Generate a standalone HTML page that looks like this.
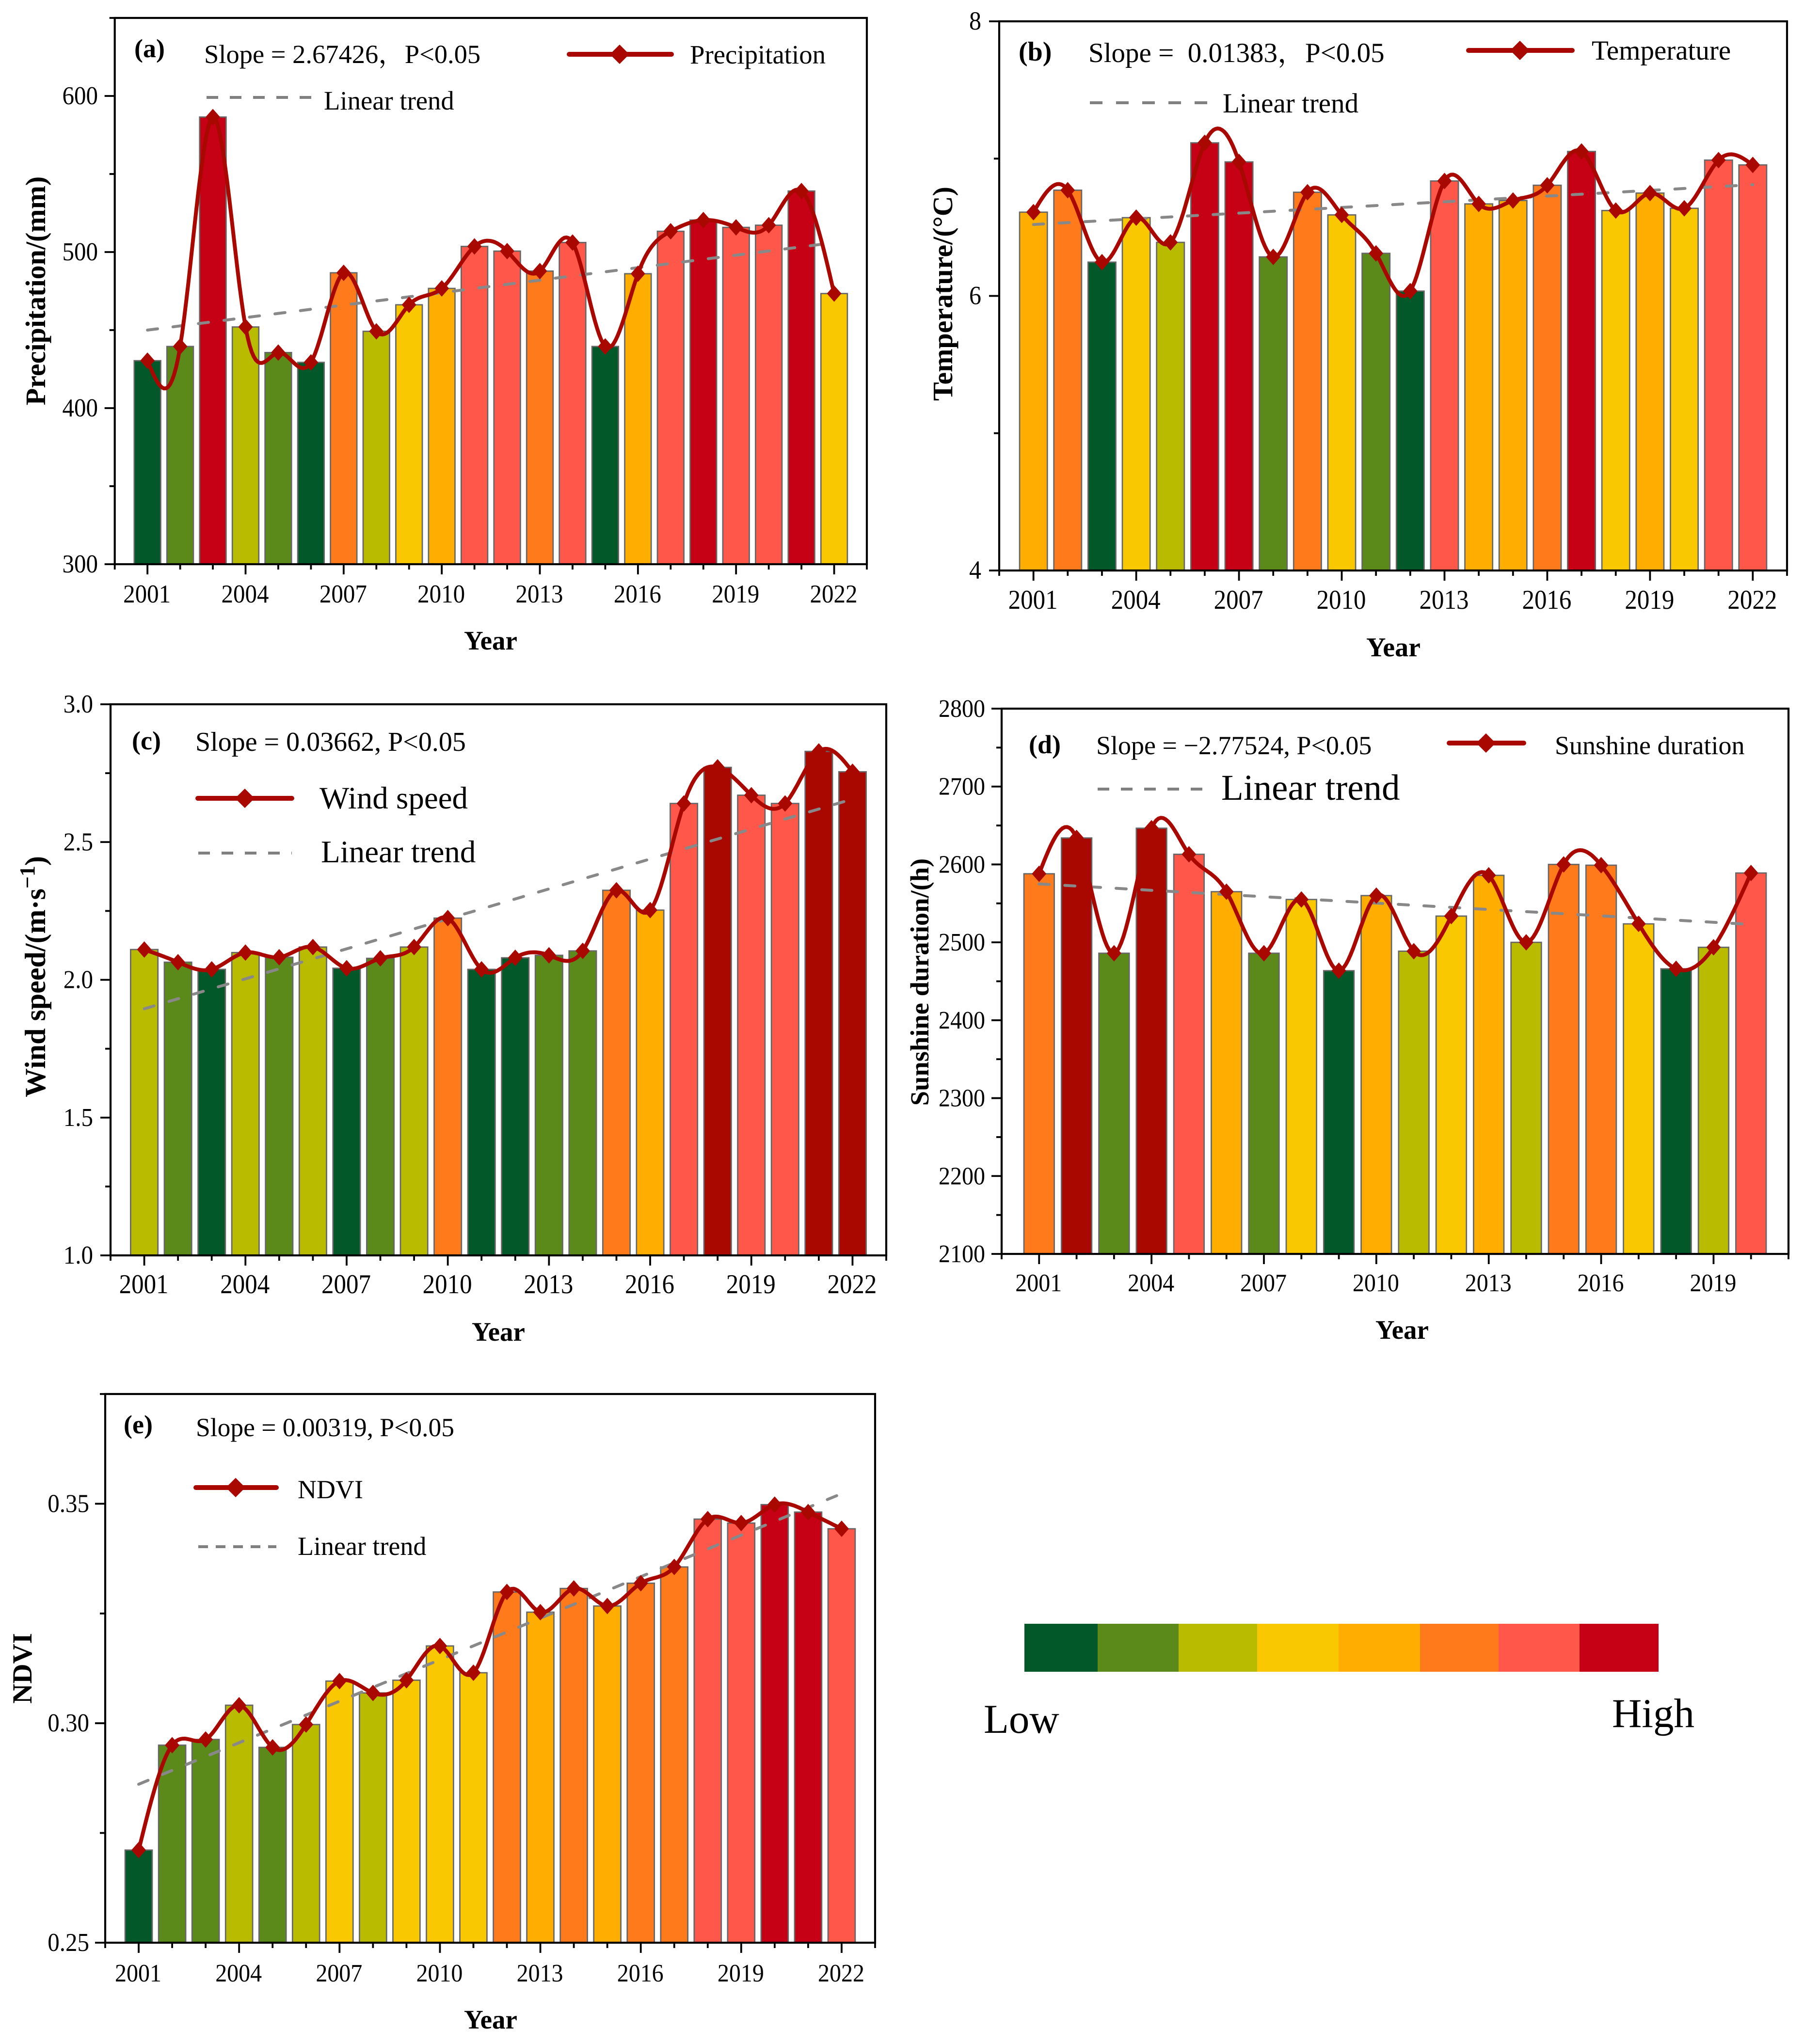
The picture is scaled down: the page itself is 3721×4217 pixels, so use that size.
<!DOCTYPE html>
<html lang="en">
<head>
<meta charset="utf-8">
<title>Climate and NDVI trends 2001-2022</title>
<style>
html,body{margin:0;padding:0;background:#fff}
svg{display:block}
text{font-family:"Liberation Serif","Noto Serif CJK SC",serif;fill:#000}
</style>
</head>
<body>
<svg id="figure" xmlns="http://www.w3.org/2000/svg" width="3721" height="4217" viewBox="0 0 3721 4217">
<rect width="3721" height="4217" fill="#fff"/>
<g id="marks"></g>

<g>
<text x="277" y="118" font-size="54" font-weight="bold">(a)</text>
<text x="421" y="130" font-size="54.5">Slope = 2.67426，P&lt;0.05</text>
<line x1="1174" x2="1385" y1="112" y2="112" stroke="#a80800" stroke-width="10" stroke-linecap="round"/>
<polygon points="1278,92 1298,112 1278,132 1258,112" fill="#a80800"/>
<text x="1423" y="131" font-size="54.8">Precipitation</text>
<line x1="426" x2="642" y1="201" y2="201" stroke="#808080" stroke-width="6" stroke-dasharray="24 24"/>
<text x="668" y="226" font-size="54.7">Linear trend</text>
<text transform="translate(93,600) rotate(-90)" text-anchor="middle" font-size="58" font-weight="bold">Precipitation/(mm)</text>
<text x="1012" y="1340" text-anchor="middle" font-size="55" font-weight="bold">Year</text>
</g>

<g>
<text x="2101" y="125" font-size="56" font-weight="bold">(b)</text>
<text x="2245" y="128" font-size="57" xml:space="preserve">Slope =  0.01383，P&lt;0.05</text>
<line x1="3029" x2="3243" y1="104" y2="104" stroke="#a80800" stroke-width="10" stroke-linecap="round"/>
<polygon points="3135,84 3155,104 3135,124 3115,104" fill="#a80800"/>
<text x="3283" y="123" font-size="57">Temperature</text>
<line x1="2248" x2="2494" y1="212" y2="212" stroke="#808080" stroke-width="6" stroke-dasharray="26 28"/>
<text x="2522" y="232" font-size="57">Linear trend</text>
<text transform="translate(1964,606) rotate(-90)" text-anchor="middle" font-size="58" font-weight="bold">Temperature/(°C)</text>
<text x="2874" y="1354" text-anchor="middle" font-size="56" font-weight="bold">Year</text>
</g>

<g>
<text x="272" y="1546" font-size="54" font-weight="bold">(c)</text>
<text x="403" y="1549" font-size="56">Slope = 0.03662, P&lt;0.05</text>
<line x1="408" x2="602" y1="1647" y2="1647" stroke="#a80800" stroke-width="10" stroke-linecap="round"/>
<polygon points="505,1627 525,1647 505,1667 485,1647" fill="#a80800"/>
<text x="659" y="1668" font-size="65">Wind speed</text>
<line x1="409" x2="602" y1="1760" y2="1760" stroke="#808080" stroke-width="6" stroke-dasharray="24 24"/>
<text x="662" y="1779" font-size="65">Linear trend</text>
<text transform="translate(93,2015) rotate(-90)" text-anchor="middle" font-size="60" font-weight="bold">Wind speed/(m·s<tspan dy="-22" font-size="44">−1</tspan><tspan dy="22">)</tspan></text>
<text x="1028" y="2766" text-anchor="middle" font-size="55" font-weight="bold">Year</text>
</g>

<g>
<text x="2122" y="1554" font-size="54" font-weight="bold">(d)</text>
<text x="2261" y="1556" font-size="54">Slope = −2.77524, P&lt;0.05</text>
<line x1="2989" x2="3143" y1="1533" y2="1533" stroke="#a80800" stroke-width="10" stroke-linecap="round"/>
<polygon points="3065,1513 3085,1533 3065,1553 3045,1533" fill="#a80800"/>
<text x="3207" y="1556" font-size="54">Sunshine duration</text>
<line x1="2264" x2="2486" y1="1628" y2="1628" stroke="#808080" stroke-width="6" stroke-dasharray="24 24"/>
<text x="2519" y="1650" font-size="75">Linear trend</text>
<text transform="translate(1915,2026) rotate(-90)" text-anchor="middle" font-size="54.5" font-weight="bold">Sunshine duration/(h)</text>
<text x="2892" y="2762" text-anchor="middle" font-size="55" font-weight="bold">Year</text>
</g>

<g>
<text x="255" y="2957" font-size="54" font-weight="bold">(e)</text>
<text x="404" y="2963" font-size="53.5">Slope = 0.00319, P&lt;0.05</text>
<line x1="404" x2="570" y1="3069" y2="3069" stroke="#a80800" stroke-width="10" stroke-linecap="round"/>
<polygon points="486,3049 506,3069 486,3089 466,3069" fill="#a80800"/>
<text x="614" y="3091" font-size="54">NDVI</text>
<line x1="409" x2="570" y1="3191" y2="3191" stroke="#808080" stroke-width="6" stroke-dasharray="20 16"/>
<text x="614" y="3208" font-size="54">Linear trend</text>
<text transform="translate(65,3442) rotate(-90)" text-anchor="middle" font-size="57" font-weight="bold">NDVI</text>
<text x="1012" y="4185" text-anchor="middle" font-size="55" font-weight="bold">Year</text>
</g>

<g>
<rect x="2113" y="3350" width="152" height="99" fill="#03582a"/>
<rect x="2264" y="3350" width="168" height="99" fill="#5c8a1a"/>
<rect x="2431" y="3350" width="163" height="99" fill="#b9bb00"/>
<rect x="2593" y="3350" width="169" height="99" fill="#f9c800"/>
<rect x="2761" y="3350" width="169" height="99" fill="#ffae00"/>
<rect x="2929" y="3350" width="163" height="99" fill="#ff7a1a"/>
<rect x="3091" y="3350" width="168" height="99" fill="#ff574a"/>
<rect x="3258" y="3350" width="163" height="99" fill="#c60015"/>
<text x="2029" y="3575" font-size="85">Low</text>
<text x="3325" y="3563" font-size="85">High</text>
</g>
</svg>

<script>
// ---- shared data ----
const years = [2001,2002,2003,2004,2005,2006,2007,2008,2009,2010,2011,2012,2013,2014,2015,2016,2017,2018,2019,2020,2021,2022];
const sunshineYears = [2001,2002,2003,2004,2005,2006,2007,2008,2009,2010,2011,2012,2013,2014,2015,2016,2017,2018,2019,2020];
const xTickLabels = [2001,2004,2007,2010,2013,2016,2019,2022];
const xTickLabelsSunshine = [2001,2004,2007,2010,2013,2016,2019];

// ---- series values ----
const precipitation = [430.4,439.5,586.5,452,435.6,429.3,486.7,449.2,466.2,476.7,503.6,500.6,487.8,506.1,439.5,486.1,513.3,520.5,515.8,517.2,539.1,473.4];
const temperature = [6.61,6.77,6.246,6.57,6.39,7.115,6.976,6.284,6.755,6.59,6.31,6.035,6.837,6.67,6.695,6.806,7.052,6.622,6.749,6.638,6.989,6.954];
const windSpeed = [2.11,2.064,2.038,2.099,2.082,2.119,2.042,2.078,2.119,2.224,2.038,2.08,2.089,2.105,2.325,2.253,2.64,2.771,2.67,2.64,2.829,2.755];
const sunshine = [2588,2634,2486,2646.5,2613,2565,2486,2555,2463.6,2560,2488.6,2533.7,2586,2500,2600,2599,2523.7,2466,2493.6,2589];
const ndvi = [0.2711,0.295,0.2963,0.3041,0.2945,0.2997,0.3096,0.3069,0.3098,0.3176,0.3115,0.3299,0.3253,0.3307,0.3267,0.3319,0.3356,0.3465,0.3456,0.3498,0.3481,0.3443];

// ---- linear trend end values (first year, last year) ----
const precipitationTrend = [450,506];
const temperatureTrend = [6.52,6.81];
const windSpeedTrend = [1.895,2.656];
const sunshineTrend = [2575,2523];
const ndviTrend = [0.2861,0.3523];

// ---- colour class of each bar (index into palette) ----
const palette = ['#03582a','#5c8a1a','#b9bb00','#f9c800','#ffae00','#ff7a1a','#ff574a','#c60015','#a80800'];
const precipitationClass = [0,1,7,2,1,0,5,2,3,4,6,6,5,6,0,4,6,7,6,6,7,3];
const temperatureClass = [4,5,0,3,2,7,7,1,5,3,1,0,6,4,4,5,7,3,4,3,6,6];
const windSpeedClass = [2,1,0,2,1,2,0,1,2,5,0,0,1,1,5,4,6,8,6,6,8,8];
const sunshineClass = [5,8,1,8,6,4,1,3,0,4,2,3,4,2,5,5,3,0,2,6];
const ndviClass = [0,1,1,2,1,2,3,2,3,3,3,5,4,5,4,5,5,6,6,7,7,6];

// ---- y axis ticks ----
const precipitationTicks = [300,400,500,600];
const precipitationMinor = [350,450,550,650];
const temperatureTicks = [4,6,8];
const temperatureMinor = [5,7];
const windSpeedTicks = [1.0,1.5,2.0,2.5,3.0];
const windSpeedMinor = [1.25,1.75,2.25,2.75];
const sunshineTicks = [2100,2200,2300,2400,2500,2600,2700,2800];
const sunshineMinor = [2150,2250,2350,2450,2550,2650,2750];
const ndviTicks = [0.25,0.30,0.35];
const ndviMinor = [0.275,0.325,0.375];

// ---- y axis domains ----
const precipitationDomain = [300,650];
const temperatureDomain = [4,8];
const windSpeedDomain = [1,3];
const sunshineDomain = [2100,2800];
const ndviDomain = [0.25,0.375];

const NS = 'http://www.w3.org/2000/svg';
const root = document.getElementById('marks');

function make(tag, attrs, parent) {
  const node = document.createElementNS(NS, tag);
  for (const k in attrs) node.setAttribute(k, attrs[k]);
  parent.appendChild(node);
  return node;
}

// natural cubic spline through the data points
function splinePath(xs, ys) {
  const n = xs.length;
  const h = [], a = new Array(n).fill(0), l = new Array(n).fill(1), mu = new Array(n).fill(0), z = new Array(n).fill(0), c = new Array(n).fill(0);
  for (let i = 0; i < n - 1; i++) h[i] = xs[i + 1] - xs[i];
  for (let i = 1; i < n - 1; i++) a[i] = 3 / h[i] * (ys[i + 1] - ys[i]) - 3 / h[i - 1] * (ys[i] - ys[i - 1]);
  for (let i = 1; i < n - 1; i++) {
    l[i] = 2 * (xs[i + 1] - xs[i - 1]) - h[i - 1] * mu[i - 1];
    mu[i] = h[i] / l[i];
    z[i] = (a[i] - h[i - 1] * z[i - 1]) / l[i];
  }
  for (let j = n - 2; j >= 0; j--) c[j] = z[j] - mu[j] * c[j + 1];
  let d = 'M' + xs[0].toFixed(1) + ' ' + ys[0].toFixed(1);
  for (let i = 0; i < n - 1; i++) {
    const b = (ys[i + 1] - ys[i]) / h[i] - h[i] * (c[i + 1] + 2 * c[i]) / 3;
    const e = (c[i + 1] - c[i]) / (3 * h[i]);
    for (let s = 1; s <= 16; s++) {
      const t = h[i] * s / 16;
      d += 'L' + (xs[i] + t).toFixed(1) + ' ' + (ys[i] + b * t + c[i] * t * t + e * t * t * t).toFixed(1);
    }
  }
  return d;
}

function drawPanel(p) {
  const g = make('g', {}, root);
  
  
  const xMin = p.categories[0] - 1, xMax = p.categories[p.categories.length - 1] + 1;
  const xScale = v => p.left + (v - xMin) / (xMax - xMin) * (p.right - p.left);
  const yScale = v => p.bottom - (v - p.domain[0]) / (p.domain[1] - p.domain[0]) * (p.bottom - p.top);
  const step = (p.right - p.left) / (xMax - xMin);
  const barWidth = step * 0.81;

  // bars
  p.categories.forEach((yr, i) => {
    const top = yScale(p.values[i]);
    const bar = make('rect', {x: xScale(yr) - barWidth / 2, y: top, width: barWidth, height: p.bottom - top, fill: palette[p.classes[i]], stroke: '#666', 'stroke-width': 2.7}, g);
    
    
  });

  // trend line
  const first = p.categories[0], last = p.categories[p.categories.length - 1];
  const trend = make('line', {x1: xScale(first), y1: yScale(p.trend[0]), x2: xScale(last), y2: yScale(p.trend[1]), stroke: '#888', 'stroke-width': 6, 'stroke-dasharray': '21 32', 'stroke-linecap': 'round'}, g);
  
  

  // spline
  const curve = make('path', {d: splinePath(p.categories.map(xScale), p.values.map(yScale)), fill: 'none', stroke: '#a80800', 'stroke-width': 8, 'stroke-linejoin': 'round'}, g);
  
  

  // markers
  p.categories.forEach((yr, i) => {
    const cx = xScale(yr), cy = yScale(p.values[i]);
    const m = make('polygon', {points: cx + ',' + (cy - 17) + ' ' + (cx + 15) + ',' + cy + ' ' + cx + ',' + (cy + 17) + ' ' + (cx - 15) + ',' + cy, fill: '#a80800'}, g);
    
    
  });

  // frame
  const frame = make('rect', {x: p.left, y: p.top, width: p.right - p.left, height: p.bottom - p.top, fill: 'none', stroke: '#000', 'stroke-width': 4.2}, g);
  
  

  // x ticks
  for (let yr = xMin; yr <= xMax; yr++) {
    const major = p.xLabels.includes(yr);
    const t = make('line', {x1: xScale(yr), x2: xScale(yr), y1: p.bottom, y2: p.bottom + (major ? 21 : 11), stroke: '#000', 'stroke-width': 3.8}, g);
    
    
  }
  p.xLabels.forEach(yr => {
    const t = make('text', {transform: 'translate(' + (xScale(yr) - 1) + ',' + p.xLabelY + ') scale(1,1.09)', 'text-anchor': 'middle', 'font-size': p.xFont}, g);
    t.textContent = yr;
    
    
  });

  // y ticks
  p.yTicks.forEach(v => {
    const t = make('line', {x1: p.left - 21, x2: p.left, y1: yScale(v), y2: yScale(v), stroke: '#000', 'stroke-width': 3.8}, g);
    
    
    const label = make('text', {transform: 'translate(' + p.yLabelX + ',' + (yScale(v) + 17) + ') scale(1,1.09)', 'text-anchor': 'end', 'font-size': p.yFont}, g);
    label.textContent = v.toFixed(p.decimals);
    
    
  });
  p.yMinor.forEach(v => {
    const t = make('line', {x1: p.left - 11, x2: p.left, y1: yScale(v), y2: yScale(v), stroke: '#000', 'stroke-width': 3.8}, g);
    
    
  });
}

drawPanel({id:'precipitation', categories:years, values:precipitation, trend:precipitationTrend, classes:precipitationClass, domain:precipitationDomain, yTicks:precipitationTicks, yMinor:precipitationMinor, xLabels:xTickLabels, decimals:0,
  left:236.7, right:1788, top:37, bottom:1164, xLabelY:1243, yLabelX:202, xFont:49, yFont:49});
drawPanel({id:'temperature', categories:years, values:temperature, trend:temperatureTrend, classes:temperatureClass, domain:temperatureDomain, yTicks:temperatureTicks, yMinor:temperatureMinor, xLabels:xTickLabels, decimals:0,
  left:2061, right:3686, top:44, bottom:1177, xLabelY:1256, yLabelX:2024, xFont:51, yFont:50});
drawPanel({id:'wind-speed', categories:years, values:windSpeed, trend:windSpeedTrend, classes:windSpeedClass, domain:windSpeedDomain, yTicks:windSpeedTicks, yMinor:windSpeedMinor, xLabels:xTickLabels, decimals:1,
  left:228, right:1828, top:1453, bottom:2590, xLabelY:2668, yLabelX:192, xFont:51, yFont:49});
drawPanel({id:'sunshine', categories:sunshineYears, values:sunshine, trend:sunshineTrend, classes:sunshineClass, domain:sunshineDomain, yTicks:sunshineTicks, yMinor:sunshineMinor, xLabels:xTickLabelsSunshine, decimals:0,
  left:2066, right:3689, top:1462, bottom:2587, xLabelY:2664, yLabelX:2032, xFont:48, yFont:48});
drawPanel({id:'ndvi', categories:years, values:ndvi, trend:ndviTrend, classes:ndviClass, domain:ndviDomain, yTicks:ndviTicks, yMinor:ndviMinor, xLabels:xTickLabels, decimals:2,
  left:217, right:1805, top:2876, bottom:4008, xLabelY:4088, yLabelX:184, xFont:48, yFont:49});
</script>
</body>
</html>
